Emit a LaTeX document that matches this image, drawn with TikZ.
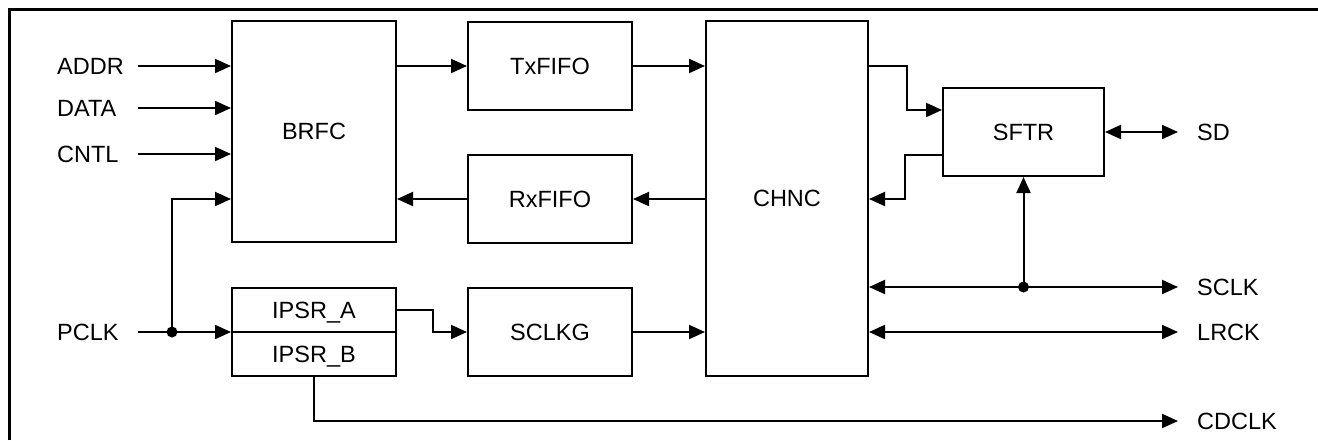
\documentclass[tikz,border=0pt]{standalone}
\usepackage{fontspec}
\setmainfont{Liberation Sans}
\usepackage{tikz}
\usetikzlibrary{arrows.meta, calc}

\begin{document}
\begin{tikzpicture}[x=1pt, y=-1pt, font=\fontsize{23.5}{28}\selectfont,
                blk/.style={draw, line width=2pt, minimum width=164pt, minimum height=88pt, inner sep=0pt, text depth=0pt},
                lbl/.style={inner sep=0pt, text depth=0pt},
                llbl/.style={lbl, anchor=west, text width=81pt, align=left},
                rlbl/.style={lbl, anchor=west, inner xsep=19pt},
                tip/.tip={Triangle[length=16pt, width=14pt]},
                sig/.style={line width=2pt, -tip},
                bus/.style={line width=2pt, tip-tip},
                dot/.style={circle, fill, inner sep=0pt, minimum size=11pt}]
                \useasboundingbox (0,0) rectangle (1318,440);
                \draw[line width=3pt] (9,440) -- (9,9) -- (1318,9);
                \node[blk, minimum height=221pt] (brfc) at (314,131.5) {BRFC};
                \node[blk] (txfifo) at (550,66) {TxFIFO};
                \node[blk] (rxfifo) at (550,199) {RxFIFO};
                \node[blk, minimum width=162pt, minimum height=355pt] (chnc) at (787,198.5) {CHNC};
                \node[blk, minimum width=161pt] (sftr) at (1023.5,132) {SFTR};
                \node[blk, minimum height=44pt] (ipsra) at (314,310) {IPSR\_A};
                \node[blk, minimum height=44pt] (ipsrb) at (314,354) {IPSR\_B};
                \node[blk] (sclkg) at (550,332) {SCLKG};
                \node[llbl] (addr) at (57,66) {ADDR};
                \node[llbl] (data) at (57,108) {DATA};
                \node[llbl] (cntl) at (57,154) {CNTL};
                \node[llbl] (pclk) at (57,332) {PCLK};
                \node[rlbl] (sd) at (1178,132) {SD};
                \node[rlbl] (sclk) at (1178,287) {SCLK};
                \node[rlbl] (lrck) at (1178,332) {LRCK};
                \node[rlbl] (cdclk) at (1178,421) {CDCLK};
                \node[dot] (j1) at (172,332) {};
                \node[dot] (j2) at (sftr.south |- sclk) {};
                \draw[sig] (addr.east) -- (addr.east -| brfc.west);
                \draw[sig] (data.east) -- (data.east -| brfc.west);
                \draw[sig] (cntl.east) -- (cntl.east -| brfc.west);
                \draw[sig] (pclk.east) -- (pclk.east -| ipsra.west);
                \draw[sig] (j1.center) |- (brfc.west |- rxfifo);
                \draw[sig] (brfc.east |- txfifo) -- (txfifo.west);
                \draw[sig] (txfifo.east) -- (txfifo.east -| chnc.west);
                \draw[sig] (chnc.west |- rxfifo) -- (rxfifo.east);
                \draw[sig] (rxfifo.west) -- (brfc.east |- rxfifo);
                \draw[sig] (chnc.east |- txfifo) -- ++(38,0) |- ([yshift=22pt]sftr.west);
                \draw[sig] ([yshift=-23pt]sftr.west) -- ++(-37,0) |- (chnc.east |- rxfifo);
                \draw[bus] (sftr.east) -- (sd.west);
                \draw[bus] (chnc.east |- sclk) -- (sclk.west);
                \draw[sig] (j2.center) -- (sftr.south);
                \draw[bus] (chnc.east |- lrck) -- (lrck.west);
                \draw[sig] (ipsra.east) -- ++(36,0) |- (sclkg.west);
                \draw[sig] (sclkg.east) -- (sclkg.east -| chnc.west);
                \draw[sig] (ipsrb.south) |- (cdclk.west);
            \end{tikzpicture}
\end{document}
